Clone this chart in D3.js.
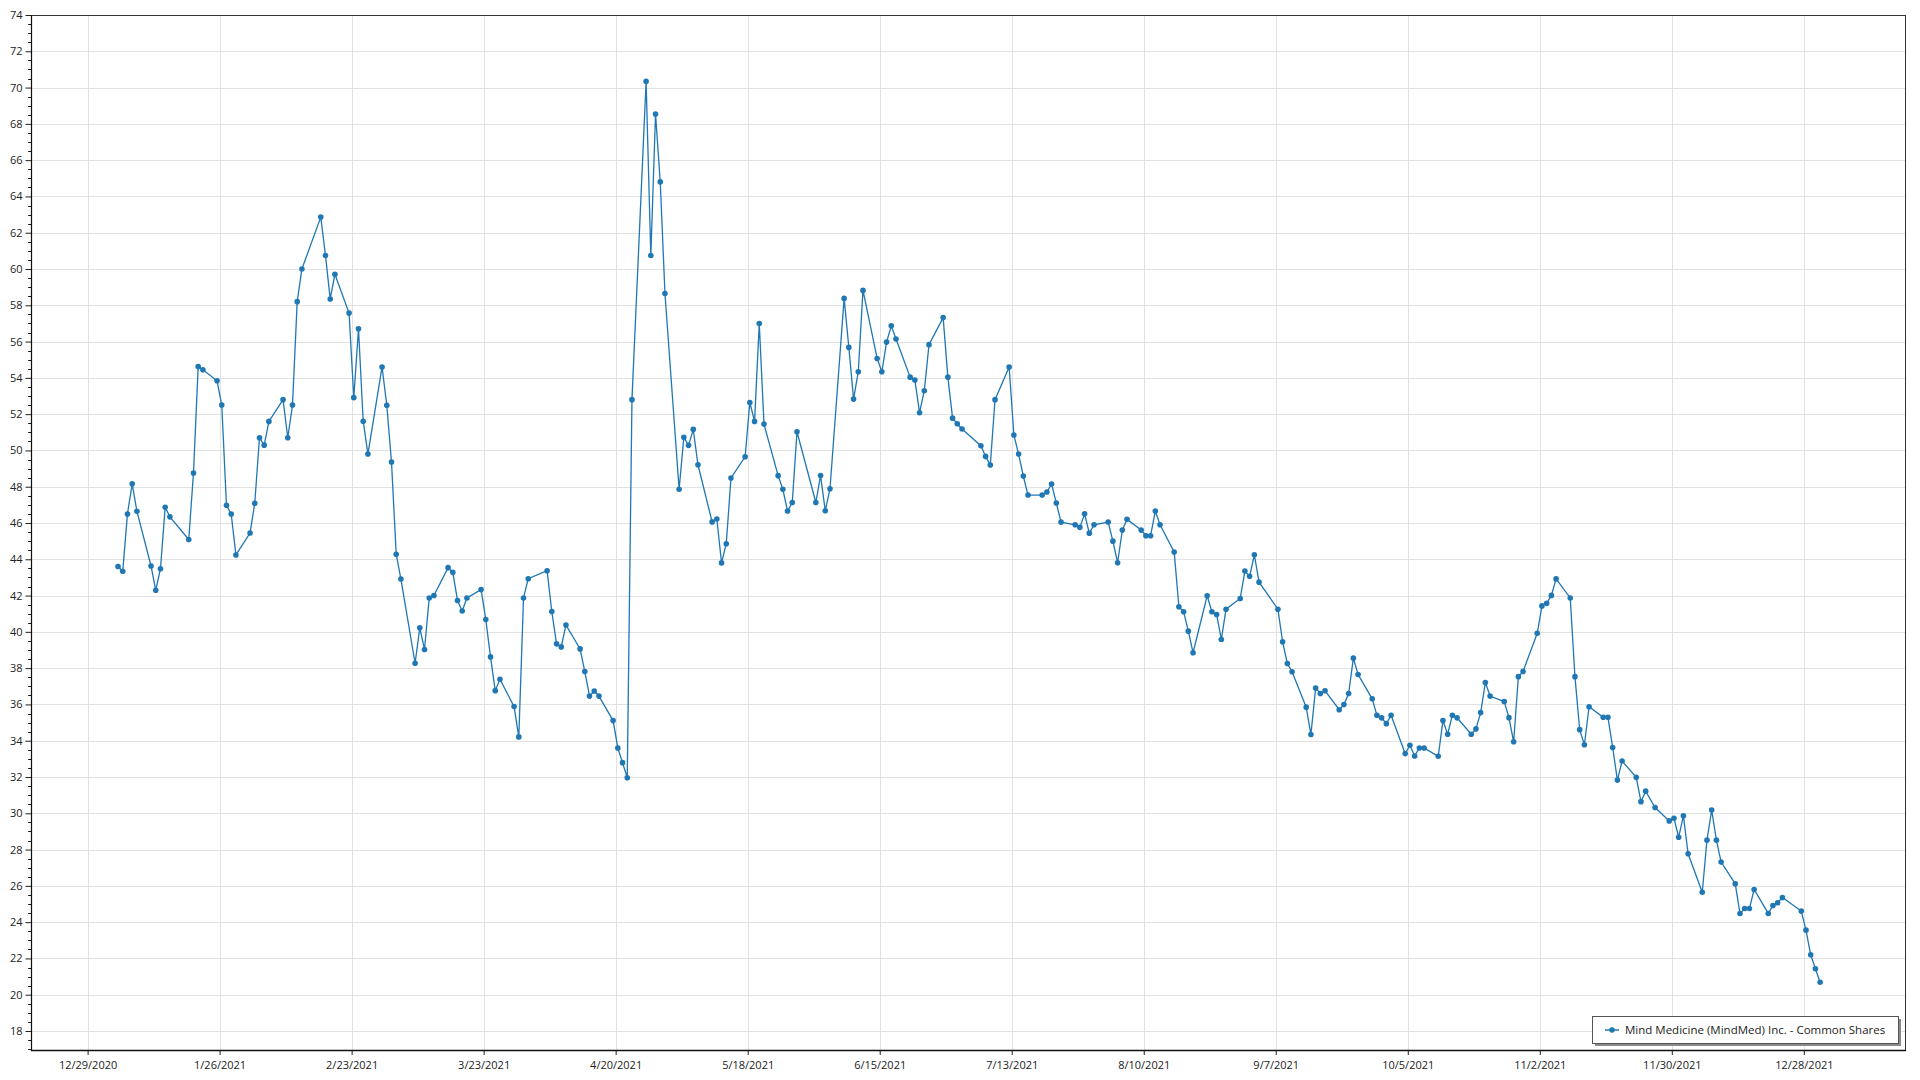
<!DOCTYPE html>
<html><head><meta charset="utf-8">
<script src="https://cdn.jsdelivr.net/npm/d3@7"></script>
<style>
body{margin:0;background:#fff;}
text{font-family:"Open Sans","Noto Sans",sans-serif;}
</style>
</head><body>
<svg id="chart" width="1920" height="1080"></svg>
<script>
const seriesName = "Mind Medicine (MindMed) Inc. - Common Shares";

const dates = [
 "2021-01-04","2021-01-05","2021-01-06","2021-01-07","2021-01-08","2021-01-11","2021-01-12","2021-01-13","2021-01-14","2021-01-15","2021-01-19","2021-01-20","2021-01-21","2021-01-22","2021-01-25","2021-01-26","2021-01-27","2021-01-28","2021-01-29",
 "2021-02-01","2021-02-02","2021-02-03","2021-02-04","2021-02-05","2021-02-08","2021-02-09","2021-02-10","2021-02-11","2021-02-12","2021-02-16","2021-02-17","2021-02-18","2021-02-19","2021-02-22","2021-02-23","2021-02-24","2021-02-25","2021-02-26",
 "2021-03-01","2021-03-02","2021-03-03","2021-03-04","2021-03-05","2021-03-08","2021-03-09","2021-03-10","2021-03-11","2021-03-12","2021-03-15","2021-03-16","2021-03-17","2021-03-18","2021-03-19","2021-03-22","2021-03-23","2021-03-24","2021-03-25","2021-03-26","2021-03-29","2021-03-30","2021-03-31",
 "2021-04-01","2021-04-05","2021-04-06","2021-04-07","2021-04-08","2021-04-09","2021-04-12","2021-04-13","2021-04-14","2021-04-15","2021-04-16","2021-04-19","2021-04-20","2021-04-21","2021-04-22","2021-04-23","2021-04-26","2021-04-27","2021-04-28","2021-04-29","2021-04-30",
 "2021-05-03","2021-05-04","2021-05-05","2021-05-06","2021-05-07","2021-05-10","2021-05-11","2021-05-12","2021-05-13","2021-05-14","2021-05-17","2021-05-18","2021-05-19","2021-05-20","2021-05-21","2021-05-24","2021-05-25","2021-05-26","2021-05-27","2021-05-28",
 "2021-06-01","2021-06-02","2021-06-03","2021-06-04","2021-06-07","2021-06-08","2021-06-09","2021-06-10","2021-06-11","2021-06-14","2021-06-15","2021-06-16","2021-06-17","2021-06-18","2021-06-21","2021-06-22","2021-06-23","2021-06-24","2021-06-25","2021-06-28","2021-06-29","2021-06-30",
 "2021-07-01","2021-07-02","2021-07-06","2021-07-07","2021-07-08","2021-07-09","2021-07-12","2021-07-13","2021-07-14","2021-07-15","2021-07-16","2021-07-19","2021-07-20","2021-07-21","2021-07-22","2021-07-23","2021-07-26","2021-07-27","2021-07-28","2021-07-29","2021-07-30",
 "2021-08-02","2021-08-03","2021-08-04","2021-08-05","2021-08-06","2021-08-09","2021-08-10","2021-08-11","2021-08-12","2021-08-13","2021-08-16","2021-08-17","2021-08-18","2021-08-19","2021-08-20","2021-08-23","2021-08-24","2021-08-25","2021-08-26","2021-08-27","2021-08-30","2021-08-31",
 "2021-09-01","2021-09-02","2021-09-03","2021-09-07","2021-09-08","2021-09-09","2021-09-10","2021-09-13","2021-09-14","2021-09-15","2021-09-16","2021-09-17","2021-09-20","2021-09-21","2021-09-22","2021-09-23","2021-09-24","2021-09-27","2021-09-28","2021-09-29","2021-09-30",
 "2021-10-01","2021-10-04","2021-10-05","2021-10-06","2021-10-07","2021-10-08","2021-10-11","2021-10-12","2021-10-13","2021-10-14","2021-10-15","2021-10-18","2021-10-19","2021-10-20","2021-10-21","2021-10-22","2021-10-25","2021-10-26","2021-10-27","2021-10-28","2021-10-29",
 "2021-11-01","2021-11-02","2021-11-03","2021-11-04","2021-11-05","2021-11-08","2021-11-09","2021-11-10","2021-11-11","2021-11-12","2021-11-15","2021-11-16","2021-11-17","2021-11-18","2021-11-19","2021-11-22","2021-11-23","2021-11-24","2021-11-26","2021-11-29","2021-11-30",
 "2021-12-01","2021-12-02","2021-12-03","2021-12-06","2021-12-07","2021-12-08","2021-12-09","2021-12-10","2021-12-13","2021-12-14","2021-12-15","2021-12-16","2021-12-17","2021-12-20","2021-12-21","2021-12-22","2021-12-23","2021-12-27","2021-12-28","2021-12-29","2021-12-30","2021-12-31"
];

const prices = [
 43.60,43.34,46.50,48.16,46.65,43.63,42.29,43.48,46.87,46.34,45.09,48.75,54.62,54.45,53.84,52.50,46.98,46.50,44.24,
 45.45,47.09,50.70,50.29,51.60,52.80,50.70,52.50,58.20,60.00,62.86,60.74,58.35,59.71,57.57,52.91,56.71,51.61,49.80,
 54.60,52.49,49.36,44.28,42.91,38.27,40.22,39.03,41.87,42.00,43.54,43.28,41.73,41.15,41.87,42.33,40.68,38.62,36.76,37.39,35.88,34.21,41.87,
 42.93,43.37,41.12,39.34,39.17,40.38,39.06,37.81,36.46,36.74,36.46,35.11,33.60,32.79,31.96,52.80,70.34,60.74,68.54,64.80,58.65,
 47.86,50.72,50.28,51.16,49.21,46.06,46.22,43.80,44.86,48.48,49.65,52.64,51.60,56.99,51.45,48.61,47.86,46.66,47.13,51.03,
 47.13,48.62,46.67,47.89,58.38,55.68,52.83,54.34,58.82,55.07,54.34,55.97,56.87,56.14,54.04,53.88,52.08,53.29,55.83,57.32,54.04,51.78,
 51.47,51.18,50.26,49.67,49.20,52.80,54.60,50.85,49.80,48.59,47.54,47.54,47.71,48.15,47.10,46.05,45.90,45.76,46.51,45.44,45.90,
 46.05,45.00,43.81,45.61,46.20,45.61,45.30,45.30,46.66,45.90,44.40,41.38,41.11,40.04,38.85,41.99,41.11,40.96,39.58,41.25,41.84,43.35,
 43.06,44.25,42.74,41.25,39.45,38.26,37.80,35.85,34.34,36.90,36.60,36.75,35.71,35.99,36.60,38.55,37.65,36.31,35.40,35.26,34.94,
 35.40,33.29,33.75,33.16,33.60,33.60,33.14,35.11,34.36,35.40,35.26,34.36,34.65,35.55,37.21,36.46,36.16,35.27,33.94,37.53,37.82,
 39.92,41.43,41.57,42.01,42.92,41.87,37.53,34.61,33.78,35.87,35.29,35.29,33.63,31.83,32.88,31.98,30.64,31.22,30.32,29.58,29.73,
 28.68,29.86,27.77,25.65,28.52,30.18,28.52,27.31,26.11,24.48,24.75,24.75,25.80,24.48,24.92,25.07,25.36,24.61,23.56,22.20,21.43,20.69
];

const xTickLabels = ["12/29/2020","1/26/2021","2/23/2021","3/23/2021","4/20/2021","5/18/2021","6/15/2021",
  "7/13/2021","8/10/2021","9/7/2021","10/5/2021","11/2/2021","11/30/2021","12/28/2021"];
const yTicks = [18,20,22,24,26,28,30,32,34,36,38,40,42,44,46,48,50,52,54,56,58,60,62,64,66,68,70,72,74];

const svg = d3.select("#chart");
const plot = {left:31, right:1905, top:15, bottom:1050};
const parseDay = d3.utcParse("%Y-%m-%dT%H");
const parseTick = d3.utcParse("%m/%d/%Y");

const x = d3.scaleUtc()
  .domain([new Date(Date.UTC(2020,11,17)), new Date(Date.UTC(2022,0,18,11))])
  .range([plot.left, plot.right]);
const y = d3.scaleLinear().domain([18,74]).range([1031,15]);

const data = dates.map((d,i)=>({date:parseDay(d+"T11"), value:prices[i]}));
const tickDates = xTickLabels.map(parseTick);

// grid
const grid = svg.append("g");
grid.selectAll("line.h").data(yTicks).join("line")
  .attr("x1",plot.left).attr("x2",plot.right)
  .attr("y1",d=>Math.round(y(d))+0.5).attr("y2",d=>Math.round(y(d))+0.5)
  .attr("stroke","#e2e2e2").attr("stroke-width",1);
grid.selectAll("line.v").data(tickDates).join("line")
  .attr("x1",d=>Math.round(x(d))+0.5).attr("x2",d=>Math.round(x(d))+0.5)
  .attr("y1",plot.top).attr("y2",plot.bottom)
  .attr("stroke","#e2e2e2").attr("stroke-width",1);

// frame top/right
svg.append("line").attr("x1",plot.left).attr("x2",plot.right+0.5).attr("y1",plot.top+0.5).attr("y2",plot.top+0.5).attr("stroke","#333");
svg.append("line").attr("x1",plot.right+0.5).attr("x2",plot.right+0.5).attr("y1",plot.top).attr("y2",plot.bottom).attr("stroke","#333");

// y axis
const yAxis = d3.axisLeft(y).tickValues(yTicks).tickSize(6).tickPadding(3).tickFormat(d3.format("d"));
const gy = svg.append("g").attr("transform",`translate(${plot.left+0.5},0)`).call(yAxis);
gy.select(".domain").remove();
gy.selectAll(".tick line").attr("stroke","#222");
gy.selectAll("text").attr("font-size",11).attr("fill","#222");
const minorY = d3.range(17,74.01,0.5).filter(v=>v%2!==0);
svg.append("g").selectAll("line").data(minorY).join("line")
  .attr("x1",plot.left-3).attr("x2",plot.left)
  .attr("y1",d=>Math.round(y(d))+0.5).attr("y2",d=>Math.round(y(d))+0.5)
  .attr("stroke","#222");
svg.append("line").attr("x1",plot.left+0.5).attr("x2",plot.left+0.5).attr("y1",plot.top).attr("y2",plot.bottom+1).attr("stroke","#111").attr("stroke-width",1.2);

// x axis
const xAxis = d3.axisBottom(x).tickValues(tickDates).tickSize(5).tickPadding(6)
  .tickFormat((d,i)=>xTickLabels[i]);
const gx = svg.append("g").attr("transform",`translate(0,${plot.bottom})`).call(xAxis);
gx.select(".domain").remove();
gx.selectAll(".tick line").attr("stroke","#222");
gx.selectAll("text").attr("font-size",11).attr("fill","#222");
svg.append("line").attr("x1",plot.left).attr("x2",plot.right+1).attr("y1",plot.bottom+0.5).attr("y2",plot.bottom+0.5).attr("stroke","#111").attr("stroke-width",1.6);

// series
const color = "#1f77b4";
svg.append("clipPath").attr("id","clip").append("rect")
  .attr("x",plot.left).attr("y",plot.top).attr("width",plot.right-plot.left).attr("height",plot.bottom-plot.top);
const series = svg.append("g").attr("clip-path","url(#clip)");
series.append("path").datum(data)
  .attr("d", d3.line().x(d=>x(d.date)).y(d=>y(d.value)))
  .attr("fill","none").attr("stroke",color).attr("stroke-width",1.3);
series.selectAll("circle").data(data).join("circle")
  .attr("cx",d=>x(d.date)).attr("cy",d=>y(d.value)).attr("r",2.8).attr("fill",color);

// legend
const lg = svg.append("g").attr("transform","translate(1592,1016)");
lg.append("rect").attr("x",3).attr("y",3).attr("width",306).attr("height",27).attr("fill","#8a8a8a");
lg.append("rect").attr("x",0.5).attr("y",0.5).attr("width",306).attr("height",27).attr("fill","#fff").attr("stroke","#555");
lg.append("line").attr("x1",13).attr("x2",27).attr("y1",14).attr("y2",14).attr("stroke",color).attr("stroke-width",1.5);
lg.append("circle").attr("cx",20).attr("cy",14).attr("r",2.8).attr("fill",color);
lg.append("text").attr("x",33).attr("y",18).attr("font-size",11.5).attr("fill","#222").text(seriesName);
</script>
</body></html>
